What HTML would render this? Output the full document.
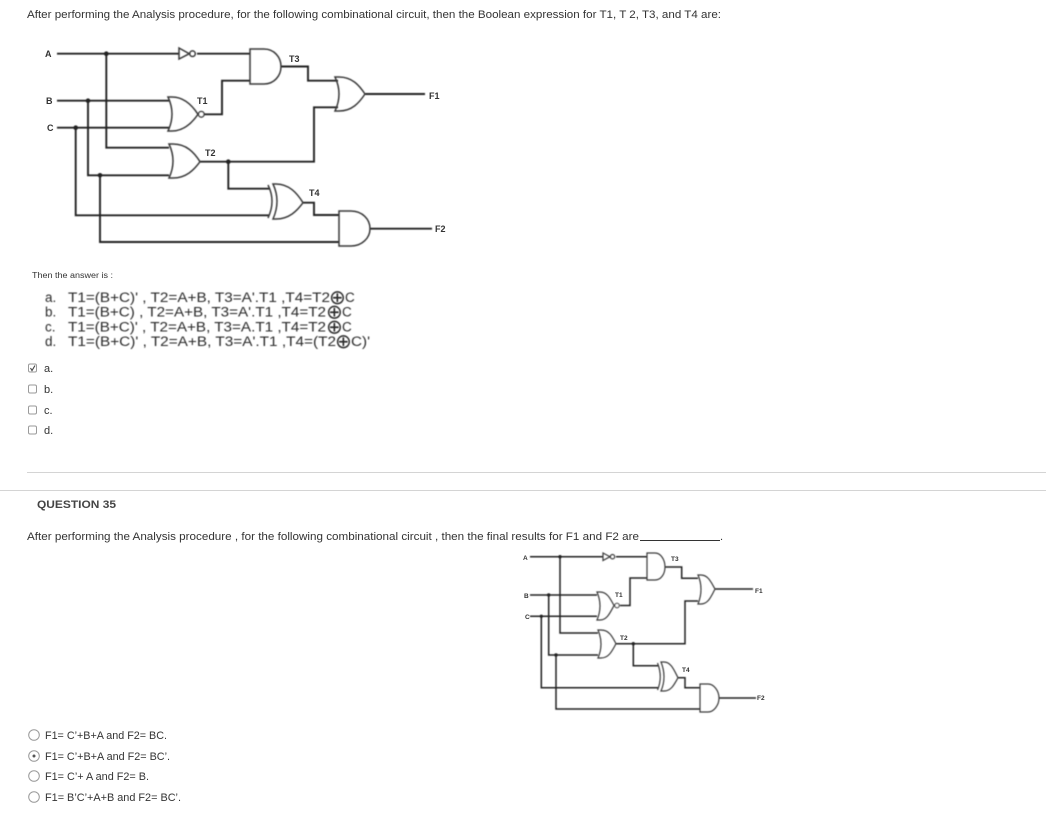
<!DOCTYPE html>
<html>
<head>
<meta charset="utf-8">
<style>
html,body{margin:0;padding:0;background:#fff;width:1046px;height:813px;overflow:hidden}
svg{display:block}
.t{font-family:"Liberation Sans",sans-serif;font-size:11px;fill:#333}
.f{font-family:"Liberation Sans",sans-serif;font-size:13.5px;fill:#2a2a2a}
.o{font-family:"DejaVu Sans",sans-serif;font-size:20px;fill:#2a2a2a}
.l{font-family:"Liberation Sans",sans-serif;font-size:9px;font-weight:bold;fill:#333}
.s{font-family:"Liberation Sans",sans-serif;font-size:6.5px;font-weight:bold;fill:#333}
.w{fill:none;stroke:#222;stroke-width:1.9}
.g{fill:none;stroke:#3a3a3a;stroke-width:1.5}
.w2{fill:none;stroke:#222;stroke-width:1.5}
.g2{fill:none;stroke:#3a3a3a;stroke-width:1.2}
.c{fill:#fff;stroke:#9a9a9a;stroke-width:1}
</style>
</head>
<body>
<svg width="1046" height="813" viewBox="0 0 1046 813" xmlns="http://www.w3.org/2000/svg">
<defs><filter id="b" x="-2%" y="-2%" width="104%" height="104%"><feGaussianBlur stdDeviation="0.4"/></filter></defs>
<rect width="1046" height="813" fill="#fff"/>

<text class="t" x="27" y="18" textLength="694" lengthAdjust="spacingAndGlyphs">After performing the Analysis procedure, for the following combinational circuit, then the Boolean expression for T1, T 2, T3, and T4 are:</text>

<!-- circuit 1 -->
<g filter="url(#b)">
<path class="w" d="M57 53.7H179M197 53.7H250M106.3 53.7V147.7H169M57 100.7H169M57 127.7H169M88 100.7V175.3H169M75.7 127.7V215.3H269M100 175.3V242H339"/>
<path class="w" d="M204.500 114.300H222V80.700H250M200 161.700H314V107.300H338M228.300 161.700V188.700H270M281 66.500H308V80.700H338M303 202.700H314V215H339M365 94H425M370 228.700H432"/>
<path class="g" d="M179 48L189.300 53.700L179 59Z"/>
<circle class="g" cx="192.500" cy="53.700" r="2.800"/>
<path class="g" d="M168 97H172C184 97 192 105 198 114.300C192 123 184 131 172 131H168Q176 114 168 97Z"/>
<circle class="g" cx="201.300" cy="114.300" r="2.800" style="fill:#fff"/>
<path class="g" d="M169 144H173C186 144 194 152 200 161.700C194 170 186 178 173 178H169Q177 161 169 144Z"/>
<path class="g" d="M250 49H264C274 49 281 57 281 66.500C281 76 274 84 264 84H250Z"/>
<path class="g" d="M335 77H339C352 77 359 85 365 94C359 103 352 111 339 111H335Q343 94 335 77Z"/>
<path class="g" d="M273 184H276C289 184 297 193 303 202.700C297 211 289 219 276 219H273Q281 201 273 184Z"/>
<path class="g" d="M268 185Q276 201 268 218"/>
<path class="g" d="M339 211H351C362 211 370 219 370 228.700C370 238 362 246 351 246H339Z"/>
<circle cx="106.300" cy="53.700" r="2.300" fill="#222"/>
<circle cx="88" cy="100.700" r="2.300" fill="#222"/>
<circle cx="75.700" cy="127.700" r="2.300" fill="#222"/>
<circle cx="100" cy="175.300" r="2.300" fill="#222"/>
<circle cx="228.300" cy="161.700" r="2.300" fill="#222"/>
</g>
<text class="l" x="45" y="57">A</text>
<text class="l" x="46" y="104">B</text>
<text class="l" x="47" y="131">C</text>
<text class="l" x="197" y="104">T1</text>
<text class="l" x="205" y="156">T2</text>
<text class="l" x="289" y="62">T3</text>
<text class="l" x="309" y="196">T4</text>
<text class="l" x="429" y="99">F1</text>
<text class="l" x="435" y="232">F2</text>

<text class="t" x="32" y="278" style="font-size:8px" textLength="81" lengthAdjust="spacingAndGlyphs">Then the answer is :</text>

<g filter="url(#b)">
<text class="f" x="45" y="302">a.</text>
<text class="f" x="68" y="302" textLength="262" lengthAdjust="spacingAndGlyphs">T1=(B+C)' , T2=A+B, T3=A'.T1 ,T4=T2</text>
<text class="o" x="329" y="304">⊕</text>
<text class="f" x="345" y="302">C</text>

<text class="f" x="45" y="316.700">b.</text>
<text class="f" x="68" y="316.700" textLength="258" lengthAdjust="spacingAndGlyphs">T1=(B+C) , T2=A+B, T3=A'.T1 ,T4=T2</text>
<text class="o" x="326" y="318.700">⊕</text>
<text class="f" x="342" y="316.700">C</text>

<text class="f" x="45" y="331.500">c.</text>
<text class="f" x="68" y="331.500" textLength="258" lengthAdjust="spacingAndGlyphs">T1=(B+C)' , T2=A+B, T3=A.T1 ,T4=T2</text>
<text class="o" x="326" y="333.500">⊕</text>
<text class="f" x="342" y="331.500">C</text>

<text class="f" x="45" y="346">d.</text>
<text class="f" x="68" y="346" textLength="268" lengthAdjust="spacingAndGlyphs">T1=(B+C)' , T2=A+B, T3=A'.T1 ,T4=(T2</text>
<text class="o" x="335" y="348">⊕</text>
<text class="f" x="351" y="346" textLength="19" lengthAdjust="spacingAndGlyphs">C)'</text>
</g>

<rect class="c" x="28.500" y="364" width="8" height="8" rx="1.500"/>
<path d="M30.500 368L32 370.500L35 365.500" fill="none" stroke="#444" stroke-width="1.100"/>
<rect class="c" x="28.500" y="385" width="8" height="8" rx="1.500"/>
<rect class="c" x="28.500" y="406" width="8" height="8" rx="1.500"/>
<rect class="c" x="28.500" y="426" width="8" height="8" rx="1.500"/>
<text class="t" x="44" y="372">a.</text>
<text class="t" x="44" y="393">b.</text>
<text class="t" x="44" y="414">c.</text>
<text class="t" x="44" y="434">d.</text>

<rect x="27" y="472" width="1019" height="1" fill="#d4d4d4"/>
<rect x="0" y="490" width="1046" height="1" fill="#d4d4d4"/>

<text class="t" x="37" y="508" style="font-weight:bold;fill:#444" textLength="79" lengthAdjust="spacingAndGlyphs">QUESTION 35</text>
<text class="t" x="27" y="540" textLength="612" lengthAdjust="spacingAndGlyphs">After performing the Analysis procedure , for the following combinational circuit , then the final results for F1 and F2 are</text>
<rect x="640" y="540" width="80" height="1" fill="#333"/>
<text class="t" x="720" y="540">.</text>

<!-- circuit 2 -->
<g filter="url(#b)">
<path class="w2" d="M530 556.700H603M616 556.700H647M560 556.700V633H598M530 595H597M530 616.300H597M548.700 595V655H598M541.300 616.300V687.700H658M556 655V709H700"/>
<path class="w2" d="M620 605.500H630V578H647M616 643.700H685V601H698M633.300 643.700V665.700H658M665 567H681.700V578.300H698M678 677.700H685V687.700H700M715 589H753M719 698H756"/>
<path class="g2" d="M603 553L610 556.700L603 560.500Z"/>
<circle class="g2" cx="612.500" cy="556.700" r="2.200"/>
<path class="g2" d="M597 592H600C607 592 610 598 614 605.500C610 613 607 620 600 620H597Q603 606 597 592Z"/>
<circle class="g2" cx="617" cy="605.500" r="2.200" style="fill:#fff"/>
<path class="g2" d="M598 630H601C609 630 612 636 616 643.700C612 651 609 658 601 658H598Q604 644 598 630Z"/>
<path class="g2" d="M647 553H655C661 553 665 560 665 567C665 574 661 580 655 580H647Z"/>
<path class="g2" d="M698 575H701C708 575 711 582 715 589C711 597 708 604 701 604H698Q704 589 698 575Z"/>
<path class="g2" d="M661 662H664C671 662 674 670 678 677.700C674 685 671 691 664 691H661Q667 677 661 662Z"/>
<path class="g2" d="M657.500 663Q663 677 657.500 690"/>
<path class="g2" d="M700 684H708C714 684 719 691 719 698C719 705 714 712 708 712H700Z"/>
<circle cx="560" cy="556.700" r="1.700" fill="#222"/>
<circle cx="548.700" cy="595" r="1.700" fill="#222"/>
<circle cx="541.300" cy="616.300" r="1.700" fill="#222"/>
<circle cx="556" cy="655" r="1.700" fill="#222"/>
<circle cx="633.300" cy="643.700" r="1.700" fill="#222"/>
</g>
<text class="s" x="523" y="560">A</text>
<text class="s" x="524" y="598">B</text>
<text class="s" x="525" y="619">C</text>
<text class="s" x="615" y="597">T1</text>
<text class="s" x="620" y="640">T2</text>
<text class="s" x="671" y="561">T3</text>
<text class="s" x="682" y="672">T4</text>
<text class="s" x="755" y="593">F1</text>
<text class="s" x="757" y="700">F2</text>

<circle class="c" cx="34" cy="735" r="5.300"/>
<circle class="c" cx="34" cy="756" r="5.300"/>
<circle cx="34" cy="756" r="1.500" fill="#555"/>
<circle class="c" cx="34" cy="776" r="5.300"/>
<circle class="c" cx="34" cy="797" r="5.300"/>
<text class="t" x="45" y="739" textLength="122" lengthAdjust="spacingAndGlyphs">F1= C’+B+A and F2= BC.</text>
<text class="t" x="45" y="760" textLength="125" lengthAdjust="spacingAndGlyphs">F1= C’+B+A and F2= BC’.</text>
<text class="t" x="45" y="780" textLength="104" lengthAdjust="spacingAndGlyphs">F1= C’+ A and F2= B.</text>
<text class="t" x="45" y="801" textLength="136" lengthAdjust="spacingAndGlyphs">F1= B’C’+A+B and F2= BC’.</text>
</svg>
</body>
</html>
